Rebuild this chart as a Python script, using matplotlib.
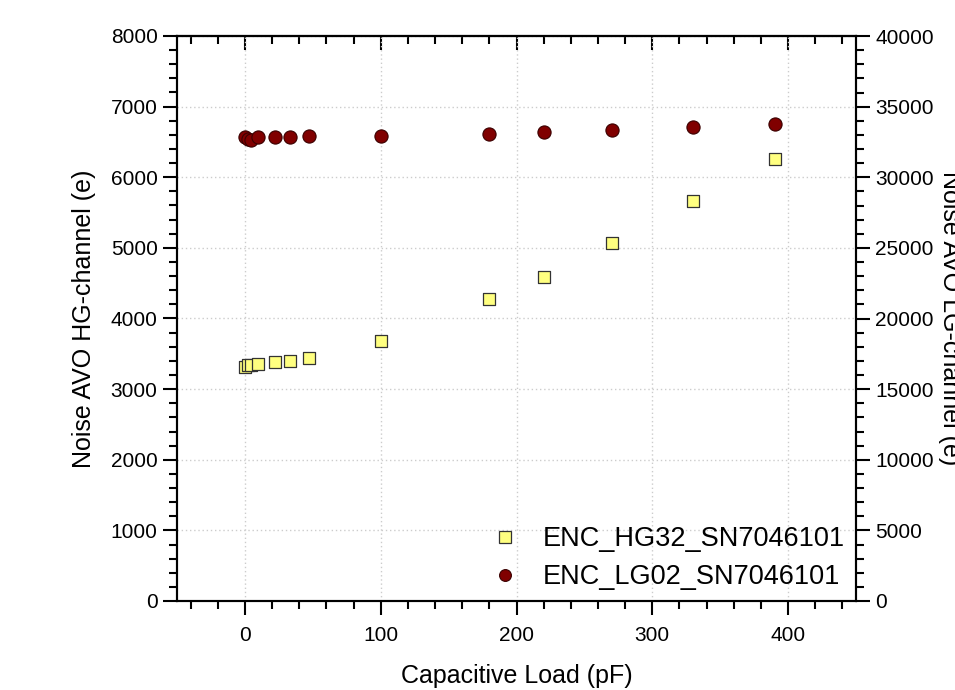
import matplotlib
matplotlib.use("Agg")
import matplotlib.pyplot as plt
from matplotlib.ticker import MultipleLocator
from matplotlib.lines import Line2D

plt.rcParams['font.family'] = ['Liberation Sans', 'DejaVu Sans']

# Data
cap_load = [0, 2.2, 4.7, 10, 22, 33, 47, 100, 180, 220, 270, 330, 390]
enc_hg32 = [3315, 3338, 3348, 3355, 3381, 3395, 3437, 3678, 4279, 4591, 5073, 5660, 6265]
enc_lg02 = [32815, 32700, 32650, 32860, 32815, 32840, 32885, 32930, 33070, 33170, 33330, 33545, 33760]

label_hg = "ENC_HG32_SN7046101"
label_lg = "ENC_LG02_SN7046101"

fig = plt.figure(figsize=(9.55, 6.90), dpi=100)
ax = fig.add_axes([177/955, 1-601/690, (856-177)/955, (601-36)/690])
ax2 = ax.twinx()

ax.set_xlim(-50, 450)
ax.set_ylim(0, 8000)
ax2.set_ylim(0, 40000)

ax.xaxis.set_major_locator(MultipleLocator(100))
ax.xaxis.set_minor_locator(MultipleLocator(20))
ax.yaxis.set_major_locator(MultipleLocator(1000))
ax.yaxis.set_minor_locator(MultipleLocator(200))
ax2.yaxis.set_major_locator(MultipleLocator(5000))
ax2.yaxis.set_minor_locator(MultipleLocator(1000))

ax.grid(True, which='major', color='#cccccc', linestyle=(0, (1, 2)), linewidth=1.0)
ax.set_axisbelow(True)

ax.scatter(cap_load, enc_hg32, marker='s', s=64, facecolor='#ffff80',
           edgecolor='#333333', linewidth=0.9, zorder=3)
ax2.scatter(cap_load, enc_lg02, marker='o', s=90, facecolor='#800000',
            edgecolor='#3a0000', linewidth=0.8, zorder=3)

for a in (ax, ax2):
    for sp in a.spines.values():
        sp.set_linewidth(1.5)

# bottom x ticks (outward)
ax.tick_params(axis='x', which='both', bottom=True, top=False, direction='out',
               labelsize=15, pad=8, width=1.5)
ax.tick_params(axis='x', which='major', length=10)
ax.tick_params(axis='x', which='minor', length=6)

# top x ticks (inward, no labels)
sec = ax.secondary_xaxis('top')
sec.xaxis.set_major_locator(MultipleLocator(100))
sec.xaxis.set_minor_locator(MultipleLocator(20))
sec.tick_params(axis='x', which='both', direction='in', labeltop=False, width=1.5)
sec.tick_params(axis='x', which='major', length=10)
sec.tick_params(axis='x', which='minor', length=6)
sec.spines['top'].set_linewidth(1.5)

ax.tick_params(axis='y', which='both', direction='out', labelsize=15, width=1.5, pad=4)
ax.tick_params(axis='y', which='major', length=10)
ax.tick_params(axis='y', which='minor', length=6)
ax2.tick_params(axis='y', which='both', direction='out', labelsize=15, width=1.5, pad=4)
ax2.tick_params(axis='y', which='major', length=10)
ax2.tick_params(axis='y', which='minor', length=6)

ax.set_xlabel("Capacitive Load (pF)", fontsize=18)
ax.xaxis.label.set_va('center')
ax.xaxis.set_label_coords(0.5, -0.133)
ax.set_ylabel("Noise AVO HG-channel (e)", fontsize=18)
ax.yaxis.label.set_va('center')
ax.yaxis.set_label_coords(-0.137, 0.5)
ax2.set_ylabel("Noise AVO LG-channel (e)", fontsize=18, rotation=270)
ax2.yaxis.label.set_va('center')
ax2.yaxis.set_label_coords(1.138, 0.5)

handles = [
    Line2D([], [], linestyle='none', marker='s', markersize=8,
           markerfacecolor='#ffff80', markeredgecolor='#333333', markeredgewidth=0.9),
    Line2D([], [], linestyle='none', marker='o', markersize=8.5,
           markerfacecolor='#800000', markeredgecolor='#3a0000', markeredgewidth=0.8),
]
leg = ax2.legend(handles, [label_hg, label_lg], loc='lower right', frameon=False,
                 fontsize=19.5, handlelength=1.0, handletextpad=0.9, labelspacing=0.45,
                 borderaxespad=0.0, bbox_to_anchor=(1.0, 0.0))

fig.savefig("out.png", dpi=100)
